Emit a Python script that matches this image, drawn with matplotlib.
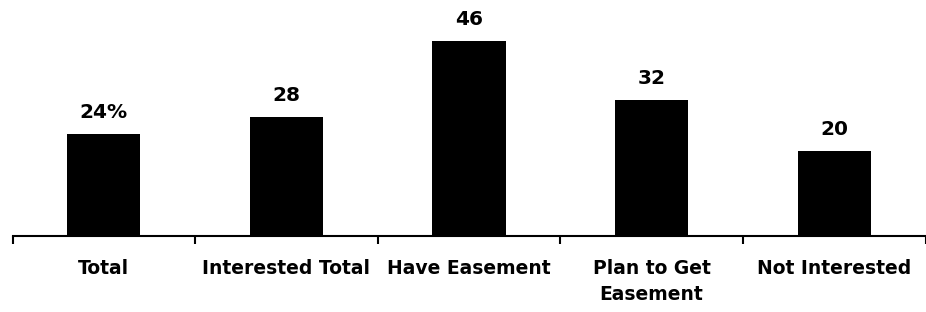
import matplotlib
matplotlib.use("Agg")
import matplotlib.pyplot as plt
import numpy as np

categories = ["Total", "Interested Total", "Have Easement", "Plan to Get\nEasement", "Not Interested"]
values = [24, 28, 46, 32, 20]
value_labels = ["24%", "28", "46", "32", "20"]

W, H = 926, 312
fig = plt.figure(figsize=(W / 100, H / 100), dpi=100)
axis_y = 235.5
left_px, right_px = 12.5, 925.5
ax = fig.add_axes([left_px / W, (H - axis_y) / H, (right_px - left_px) / W, axis_y / H])

x = np.arange(len(categories))
ax.bar(x, values, width=0.4, color="black")
ax.set_xlim(-0.5, len(categories) - 0.5)
ax.set_ylim(0, axis_y / 4.228)

for xi, v, lab in zip(x, values, value_labels):
    ax.annotate(lab, (xi, v), xytext=(0, 8.5), textcoords="offset points",
                ha="center", va="bottom", fontsize=14.5, fontweight="bold")

for s in ["top", "right", "left"]:
    ax.spines[s].set_visible(False)
ax.spines["bottom"].set_linewidth(1.5)
ax.set_yticks([])
ax.set_xticks(x)
ax.set_xticklabels(categories, fontsize=13.5, fontweight="bold", linespacing=1.45, va="top")
ax.tick_params(axis="x", which="major", length=0, pad=17)
ax.set_xticks(np.arange(-0.5, len(categories)), minor=True)
ax.tick_params(axis="x", which="minor", length=6, width=1.5, direction="out")

fig.savefig("out.png", dpi=100)
